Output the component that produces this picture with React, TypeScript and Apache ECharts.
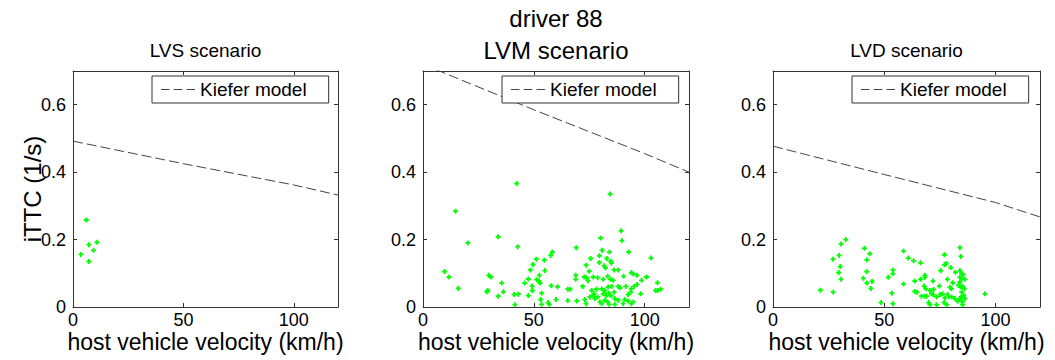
import React, { useEffect, useRef } from 'react';
import * as echarts from 'echarts';

const FONT = '"Liberation Sans", Arial, Helvetica, sans-serif';

// Kiefer model curves (velocity km/h -> iTTC 1/s)
const kieferVelocity = [0, 50, 100, 120];
const kieferLVS = [0.492, 0.425, 0.362, 0.332];
const kieferLVM = [0.72, 0.585, 0.455, 0.4];
const kieferLVD = [0.477, 0.393, 0.31, 0.267];

// LVS scenario observations
const lvsVelocity = [6.0, 7.2, 10.9, 9.3, 3.6, 7.2];
const lvsITTC = [0.258, 0.185, 0.192, 0.168, 0.156, 0.135];

// LVM scenario observations
const lvmVelocity = [
  42.3, 14.7, 20.2, 33.9, 42.7, 9.7, 11.8, 15.9, 29.7, 30.6, 35.5, 28.8, 29.2, 36.3, 33.9, 41.1,
  43.0, 41.5, 47.5, 45.9, 47.5, 49.2, 49.3, 48.4, 49.6, 51.1, 54.7, 57.6, 58.3, 55.0, 51.3, 52.3,
  52.8, 52.5, 53.5, 53.1, 53.5, 56.4, 57.0, 57.9, 60.0, 60.7, 84.4, 89.4, 89.7, 69.1, 80.1, 92.8,
  102.9, 80.8, 84.1, 79.6, 75.6, 82.9, 79.6, 84.7, 85.0, 73.6, 81.7, 82.3, 86.2, 88.0, 75.0, 68.9,
  68.9, 72.7, 73.8, 76.8, 74.4, 78.8, 83.3, 84.6, 85.8, 81.3, 90.5, 94.0, 94.9, 98.6, 100.8, 96.6,
  65.3, 66.3, 72.0, 76.1, 77.2, 78.3, 80.6, 82.0, 83.5, 85.1, 81.3, 82.7, 83.8, 84.7, 86.2, 88.0,
  88.9, 91.5, 94.0, 95.2, 96.6, 98.2, 104.9, 105.8, 107.2, 105.8, 65.3, 69.4, 73.0, 73.5, 75.3, 76.8,
  77.5, 78.8, 79.8, 80.6, 82.0, 83.3, 84.0, 86.5, 88.0, 91.0, 92.5, 94.0, 94.9, 90.3, 86.5, 92.5,
  93.7,
];
const lvmITTC = [
  0.366, 0.284, 0.19, 0.208, 0.179, 0.105, 0.089, 0.055, 0.094, 0.089, 0.071, 0.045, 0.049, 0.045, 0.032, 0.037,
  0.038, 0.007, 0.034, 0.071, 0.083, 0.062, 0.049, 0.11, 0.126, 0.142, 0.139, 0.153, 0.163, 0.108, 0.081, 0.077,
  0.071, 0.094, 0.041, 0.022, 0.008, 0.013, 0.008, 0.063, 0.022, 0.06, 0.335, 0.226, 0.197, 0.176, 0.205, 0.163,
  0.145, 0.168, 0.163, 0.152, 0.144, 0.144, 0.132, 0.136, 0.13, 0.124, 0.122, 0.116, 0.11, 0.11, 0.106, 0.094,
  0.082, 0.089, 0.087, 0.089, 0.078, 0.087, 0.091, 0.082, 0.079, 0.082, 0.091, 0.102, 0.098, 0.079, 0.089, 0.094,
  0.053, 0.053, 0.061, 0.049, 0.039, 0.053, 0.054, 0.049, 0.059, 0.061, 0.039, 0.034, 0.041, 0.034, 0.044, 0.061,
  0.057, 0.061, 0.054, 0.061, 0.067, 0.039, 0.049, 0.049, 0.053, 0.072, 0.019, 0.018, 0.022, 0.01, 0.03, 0.035,
  0.025, 0.03, 0.015, 0.01, 0.02, 0.015, 0.008, 0.025, 0.02, 0.022, 0.018, 0.01, 0.015, 0.01, 0.008, 0.037,
  0.044,
];

// LVD scenario observations
const lvdVelocity = [
  32.7, 30.6, 41.1, 43.5, 27.0, 29.7, 42.2, 30.2, 29.5, 42.1, 30.6, 40.6, 44.5, 42.2, 44.0, 21.3,
  27.1, 48.6, 51.8, 58.7, 60.8, 63.2, 66.3, 53.9, 53.9, 58.7, 53.4, 53.9, 84.0, 84.5, 77.1, 77.8,
  77.1, 79.9, 75.4, 82.0, 84.0, 84.8, 85.5, 84.0, 84.8, 86.3, 84.0, 68.3, 68.3, 66.3, 63.7, 71.9,
  78.4, 80.8, 67.9, 68.7, 74.8, 79.5, 80.2, 83.4, 84.3, 85.2, 86.0, 63.7, 64.7, 70.5, 71.3, 72.2,
  66.7, 68.0, 69.0, 72.0, 73.5, 75.1, 76.2, 77.3, 78.5, 79.2, 80.3, 81.8, 83.0, 84.0, 84.8, 85.7,
  84.5, 85.1, 86.3, 85.2, 70.0, 70.5, 73.5, 76.9, 78.0, 95.3,
];
const lvdITTC = [
  0.2, 0.187, 0.174, 0.158, 0.142, 0.153, 0.14, 0.12, 0.102, 0.105, 0.082, 0.085, 0.076, 0.071, 0.055, 0.05,
  0.044, 0.013, 0.088, 0.166, 0.145, 0.137, 0.131, 0.11, 0.099, 0.068, 0.041, 0.01, 0.176, 0.15, 0.155, 0.129,
  0.125, 0.117, 0.108, 0.103, 0.108, 0.099, 0.096, 0.088, 0.084, 0.082, 0.074, 0.094, 0.088, 0.082, 0.077, 0.077,
  0.082, 0.072, 0.062, 0.054, 0.062, 0.058, 0.054, 0.064, 0.059, 0.061, 0.054, 0.046, 0.044, 0.049, 0.039, 0.052,
  0.032, 0.032, 0.032, 0.037, 0.03, 0.037, 0.039, 0.027, 0.037, 0.03, 0.03, 0.025, 0.017, 0.023, 0.044, 0.035,
  0.03, 0.015, 0.025, 0.007, 0.013, 0.007, 0.007, 0.013, 0.007, 0.039,
];

const panelTitles = ['LVS scenario', 'LVM scenario', 'LVD scenario'];
const mainTitle = 'driver 88';
const xTicks = [0, 50, 100];
const yTicks = [0, 0.2, 0.4, 0.6];
const xName = 'host vehicle velocity (km/h)';
const yName = 'iTTC (1/s)';
const legendName = 'Kiefer model';

const PLUS = 'path://M1.6,0H3.4V1.6H5V3.4H3.4V5H1.6V3.4H0V1.6H1.6Z';
const DASH_ICON = 'path://M0,0H8V1H0ZM12,0H20V1H12ZM24,0H32V1H24Z';

export default function App() {
  const ref = useRef<HTMLDivElement>(null);

  useEffect(() => {
    if (!ref.current) return;
    const chart = echarts.init(ref.current, undefined, { renderer: 'svg' });

    const lefts = [73, 423, 773];
    const widths = [265, 266, 267];
    const top = 71;
    const height = 236;

    const kiefer = [kieferLVS, kieferLVM, kieferLVD];
    const scat = [
      [lvsVelocity, lvsITTC],
      [lvmVelocity, lvmITTC],
      [lvdVelocity, lvdITTC],
    ];

    const axisColor = '#333';
    const grids: any[] = [];
    const xAxes: any[] = [];
    const yAxes: any[] = [];
    const series: any[] = [];
    const legends: any[] = [];
    const graphics: any[] = [];

    for (let i = 0; i < 3; i++) {
      grids.push({ left: lefts[i], top, width: widths[i], height, outerBoundsMode: 'none', containLabel: false });
      const xBase = {
        type: 'value',
        gridIndex: i,
        min: 0,
        max: 120,
        interval: 50,
        splitLine: { show: false },
        axisLine: { show: true, onZero: false, lineStyle: { color: axisColor, width: 1 } },
        axisTick: { show: true, inside: true, length: 4, lineStyle: { color: axisColor } },
      };
      xAxes.push({
        ...xBase,
        position: 'bottom',
        axisLabel: {
          show: true,
          margin: 5,
          color: '#000',
          fontSize: 18,
          lineHeight: 16,
          fontFamily: FONT,
          formatter: (v: number) => (xTicks.indexOf(v) >= 0 ? String(v) : ''),
        },
        name: xName,
        nameLocation: 'middle',
        nameGap: 24,
        nameMoveOverlap: false,
        nameTextStyle: { color: '#000', fontSize: 23, lineHeight: 22, fontFamily: FONT },
      });
      xAxes.push({ ...xBase, position: 'top', axisLabel: { show: false } });

      const yBase = {
        type: 'value',
        gridIndex: i,
        min: 0,
        max: 0.7,
        interval: 0.2,
        splitLine: { show: false },
        axisLine: { show: true, onZero: false, lineStyle: { color: axisColor, width: 1 } },
        axisTick: { show: true, inside: true, length: 4, lineStyle: { color: axisColor } },
      };
      const yMain: any = {
        ...yBase,
        position: 'left',
        axisLabel: {
          show: true,
          margin: 7,
          color: '#000',
          fontSize: 18,
          lineHeight: 16,
          fontFamily: FONT,
          formatter: (v: number) => {
            const hit = yTicks.find((t) => Math.abs(t - v) < 1e-6);
            if (hit === undefined) return '';
            return hit === 0 ? '0' : hit.toFixed(1);
          },
        },
      };
      if (i === 0) {
        yMain.name = yName;
        yMain.nameLocation = 'middle';
        yMain.nameGap = 30;
        yMain.nameMoveOverlap = false;
        yMain.nameTextStyle = { color: '#000', fontSize: 24, lineHeight: 22, fontFamily: FONT };
      }
      yAxes.push(yMain);
      yAxes.push({ ...yBase, position: 'right', axisLabel: { show: false } });

      series.push({
        type: 'line',
        name: legendName,
        xAxisIndex: i * 2,
        yAxisIndex: i * 2,
        data: kieferVelocity.map((v, k) => [v, kiefer[i][k]]),
        symbol: 'none',
        showSymbol: false,
        clip: true,
        lineStyle: { color: '#444', width: 1, type: [10, 4] },
        itemStyle: { color: '#444' },
        z: 3,
      });
      series.push({
        type: 'scatter',
        name: 'obs' + i,
        xAxisIndex: i * 2,
        yAxisIndex: i * 2,
        data: scat[i][0].map((v, k) => [v, scat[i][1][k]]),
        symbol: PLUS,
        symbolSize: 5,
        itemStyle: { color: '#00ff00', opacity: 1 },
        z: 2,
      });

      legends.push({
        left: lefts[i] + 79,
        top: 76,
        data: [{ name: legendName, icon: DASH_ICON }],
        orient: 'horizontal',
        itemWidth: 34,
        itemHeight: 14,
        itemGap: 4,
        padding: [4, 22, 4, 9],
        borderColor: '#333',
        borderWidth: 1,
        borderRadius: 0,
        backgroundColor: '#fff',
        selectedMode: false,
        itemStyle: { color: '#444', borderWidth: 0 },
        textStyle: { color: '#000', fontSize: 19, fontFamily: FONT },
      });

      const cx = lefts[i] + widths[i] / 2;
      graphics.push({
        type: 'text',
        x: cx,
        y: 50,
        style: {
          text: panelTitles[i],
          fill: '#000',
          font: `${i === 1 ? 24 : 19}px ${FONT}`,
          align: 'center',
          verticalAlign: 'middle',
        },
      });
    }

    graphics.push({
      type: 'text',
      x: lefts[1] + widths[1] / 2,
      y: 18,
      style: {
        text: mainTitle,
        fill: '#000',
        font: `24px ${FONT}`,
        align: 'center',
        verticalAlign: 'middle',
      },
    });

    chart.setOption({
      animation: false,
      backgroundColor: '#fff',
      grid: grids,
      xAxis: xAxes,
      yAxis: yAxes,
      legend: legends,
      series,
      graphic: graphics,
      tooltip: { show: false },
    });

    return () => chart.dispose();
  }, []);

  return (
    <div
      ref={ref}
      style={{ position: 'absolute', left: 0, top: 0, width: 1055, height: 360, background: '#fff' }}
    />
  );
}
